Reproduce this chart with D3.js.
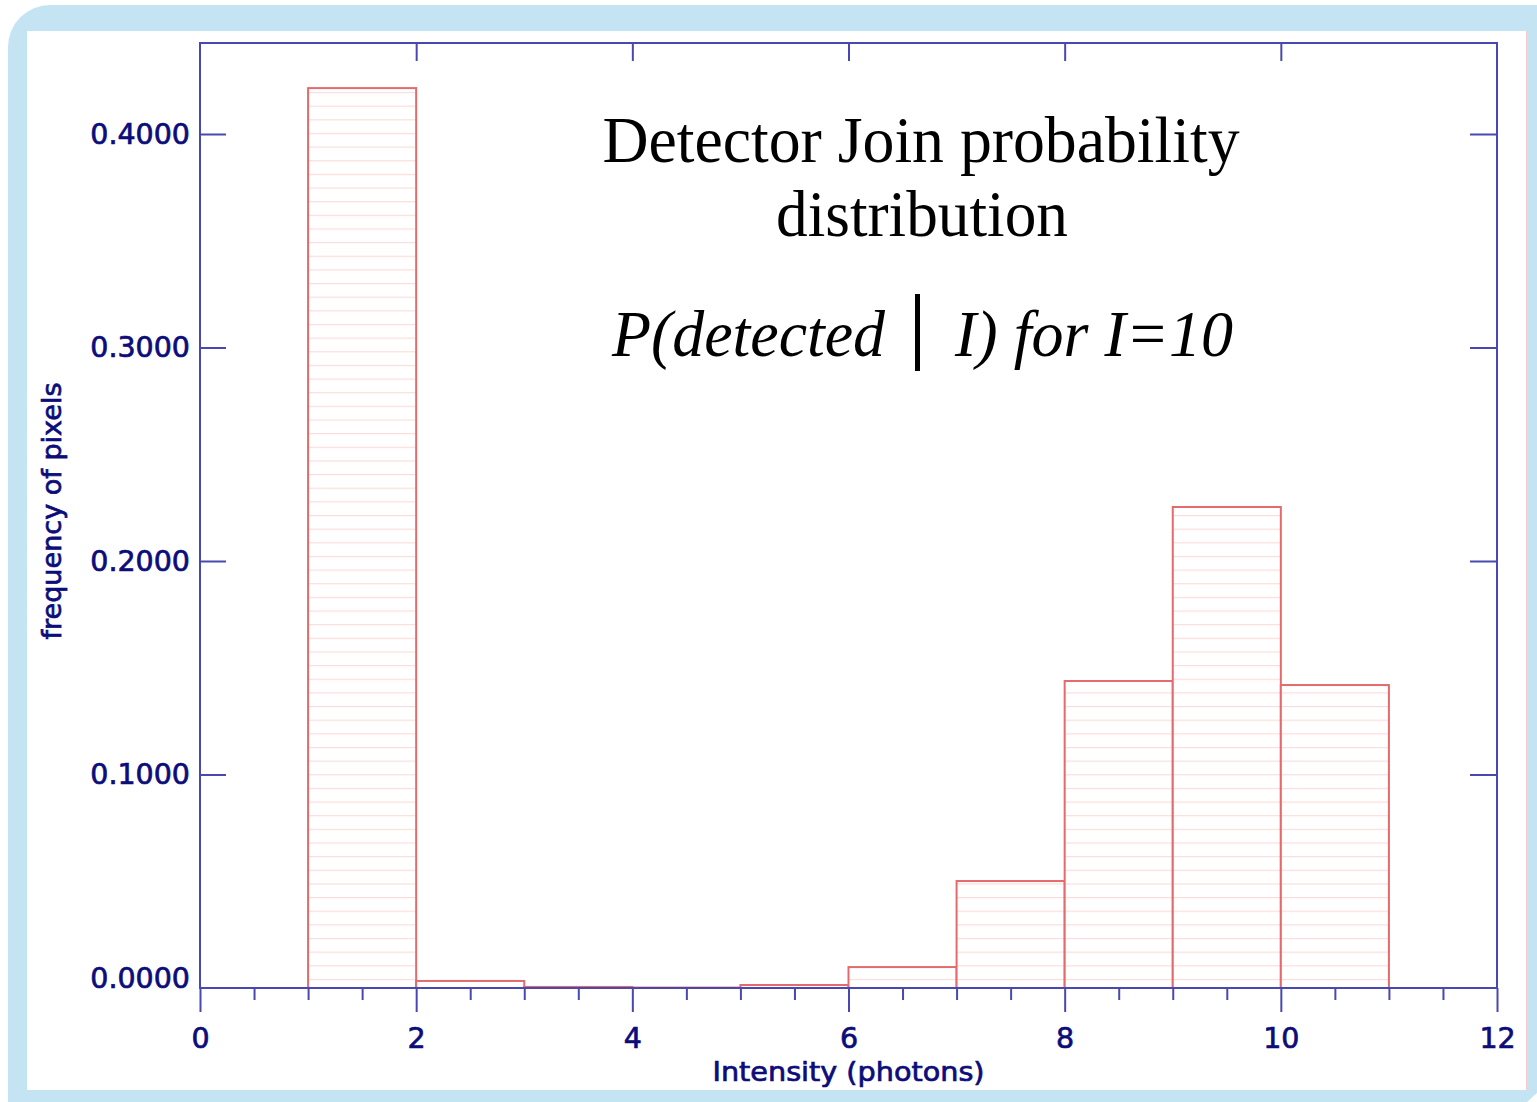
<!DOCTYPE html>
<html>
<head>
<meta charset="utf-8">
<script src="https://cdn.jsdelivr.net/npm/d3@7"></script>
<style>
  html, body { margin: 0; padding: 0; background: #fff; }
  svg { display: block; }
</style>
</head>
<body>
<div id="viz"></div>
<script>

// histogram data
var binStart = [1, 2, 3, 4, 5, 6, 7, 8, 9, 10];
var binWidth = 1;
var freq = [0.4215, 0.0033, 0.0005, 0.0002, 0.0014, 0.0098, 0.0501, 0.1438, 0.2253, 0.1419];

var xTicks = [0, 2, 4, 6, 8, 10, 12];
var xMinor = [0.5, 1, 1.5, 2.5, 3, 3.5, 4.5, 5, 5.5, 6.5, 7, 7.5, 8.5, 9, 9.5, 10.5, 11, 11.5];
var yTicks = [0, 0.1, 0.2, 0.3, 0.4];

var titleLines = ["Detector Join probability", "distribution"];
var condLeft = "P(detected";
var condRight = "I) for I=10";
var xTitle = "Intensity (photons)";
var yTitle = "frequency of pixels";

var W = 1537, H = 1102;
var axisCol = "#4848b0";
var labelCol = "#0c0c7a";
var barCol = "#e36b6b";
var sans = "'DejaVu Sans', Verdana, sans-serif";

var svg = d3.select("#viz").append("svg")
    .attr("width", W)
    .attr("height", H);

// light blue card frame
svg.append("rect")
    .attr("x", 8).attr("y", 5)
    .attr("width", W + 40).attr("height", H + 40)
    .attr("rx", 42)
    .attr("fill", "#c4e4f4");
svg.append("polygon")
    .attr("points", [[1527, H], [W, H], [W, 1093]].join(" "))
    .attr("fill", "#fff");
svg.append("rect")
    .attr("x", 27).attr("y", 31)
    .attr("width", 1499).attr("height", 1059)
    .attr("fill", "#fff");
svg.append("line")
    .attr("x1", 1526.5).attr("x2", 1526.5)
    .attr("y1", 31).attr("y2", 1090)
    .attr("stroke", "#f8caca");

var x = d3.scaleLinear().domain([0, 12]).range([200, 1497]);
var y = d3.scaleLinear().domain([0, 0.4]).range([988, 134]);

// faint horizontal hatching inside the bars
var defs = svg.append("defs");
var pat = defs.append("pattern")
    .attr("id", "hatch")
    .attr("patternUnits", "userSpaceOnUse")
    .attr("x", 0).attr("y", 10.1)
    .attr("width", 20).attr("height", 13.645);
pat.append("rect").attr("width", 20).attr("height", 13.645).attr("fill", "#fff");
pat.append("line")
    .attr("x1", 0).attr("x2", 20)
    .attr("y1", 0.5).attr("y2", 0.5)
    .attr("stroke", "#fbdcdc").attr("stroke-width", 1.3);

svg.append("g").selectAll("rect")
    .data(freq)
    .join("rect")
    .attr("x", function (d, i) { return x(binStart[i]); })
    .attr("y", function (d) { return y(d); })
    .attr("width", function (d, i) { return x(binStart[i] + binWidth) - x(binStart[i]); })
    .attr("height", function (d) { return y(0) - y(d); })
    .attr("fill", "url(#hatch)")
    .attr("stroke", barCol)
    .attr("stroke-width", 2);

// plot box
svg.append("rect")
    .attr("x", x(0)).attr("y", 43)
    .attr("width", x(12) - x(0)).attr("height", y(0) - 43)
    .attr("fill", "none")
    .attr("stroke", axisCol)
    .attr("stroke-width", 2);

function boldish(sel) {
    sel.attr("fill", labelCol)
        .attr("stroke", labelCol)
        .attr("stroke-width", 0.7)
        .style("font-family", sans);
}

function styleAxis(g) {
    g.select(".domain").remove();
    g.selectAll(".tick line").attr("stroke", axisCol).attr("stroke-width", 2);
    g.selectAll(".tick text")
        .call(boldish)
        .style("font-size", "28.5px");
}

// bottom: major ticks with labels, minor ticks
svg.append("g")
    .attr("transform", "translate(0," + y(0) + ")")
    .call(d3.axisBottom(x).tickValues(xTicks).tickSize(24).tickPadding(16).tickFormat(d3.format("d")))
    .call(styleAxis);
svg.append("g")
    .attr("transform", "translate(0," + y(0) + ")")
    .call(d3.axisBottom(x).tickValues(xMinor).tickSize(12).tickFormat(""))
    .call(styleAxis);

// top ticks
svg.append("g")
    .attr("transform", "translate(0,43)")
    .call(d3.axisTop(x).tickValues(xTicks.slice(1, -1)).tickSize(-18).tickFormat(""))
    .call(styleAxis);

// left axis with labels
var left = svg.append("g")
    .attr("transform", "translate(" + x(0) + ",0)")
    .call(d3.axisLeft(y).tickValues(yTicks).tickSize(-26).tickPadding(10).tickFormat(d3.format(".4f")))
    .call(styleAxis);
left.selectAll(".tick text")
    .attr("dy", function (d) { return d === 0 ? "-0.02em" : "0.33em"; });
left.selectAll(".tick line").filter(function (d) { return d === 0; }).remove();

// right ticks
svg.append("g")
    .attr("transform", "translate(" + x(12) + ",0)")
    .call(d3.axisRight(y).tickValues(yTicks.slice(1)).tickSize(-27).tickFormat(""))
    .call(styleAxis);

// axis titles
svg.append("text")
    .attr("x", x(6)).attr("y", 1081)
    .attr("text-anchor", "middle")
    .attr("textLength", 272)
    .attr("lengthAdjust", "spacingAndGlyphs")
    .call(boldish)
    .style("font-size", "26px")
    .text(xTitle);

svg.append("text")
    .attr("transform", "translate(61,511) rotate(-90)")
    .attr("text-anchor", "middle")
    .attr("textLength", 257)
    .attr("lengthAdjust", "spacingAndGlyphs")
    .call(boldish)
    .style("font-size", "26px")
    .text(yTitle);

// title
var serif = "'Liberation Serif', 'Times New Roman', serif";
svg.append("text")
    .attr("x", 921).attr("y", 162)
    .attr("text-anchor", "middle")
    .attr("textLength", 637)
    .attr("lengthAdjust", "spacingAndGlyphs")
    .style("font-family", serif)
    .style("font-size", "66px")
    .text(titleLines[0]);
svg.append("text")
    .attr("x", 922).attr("y", 236)
    .attr("text-anchor", "middle")
    .attr("textLength", 292)
    .attr("lengthAdjust", "spacingAndGlyphs")
    .style("font-family", serif)
    .style("font-size", "66px")
    .text(titleLines[1]);

svg.append("text")
    .attr("x", 612).attr("y", 356)
    .attr("textLength", 273)
    .attr("lengthAdjust", "spacingAndGlyphs")
    .style("font-family", serif)
    .style("font-style", "italic")
    .style("font-size", "66px")
    .text(condLeft);
svg.append("rect")
    .attr("x", 915).attr("y", 294)
    .attr("width", 5).attr("height", 77)
    .attr("fill", "#000");
svg.append("text")
    .attr("x", 955).attr("y", 356)
    .attr("textLength", 278)
    .attr("lengthAdjust", "spacingAndGlyphs")
    .style("font-family", serif)
    .style("font-style", "italic")
    .style("font-size", "66px")
    .text(condRight);

</script>
</body>
</html>
